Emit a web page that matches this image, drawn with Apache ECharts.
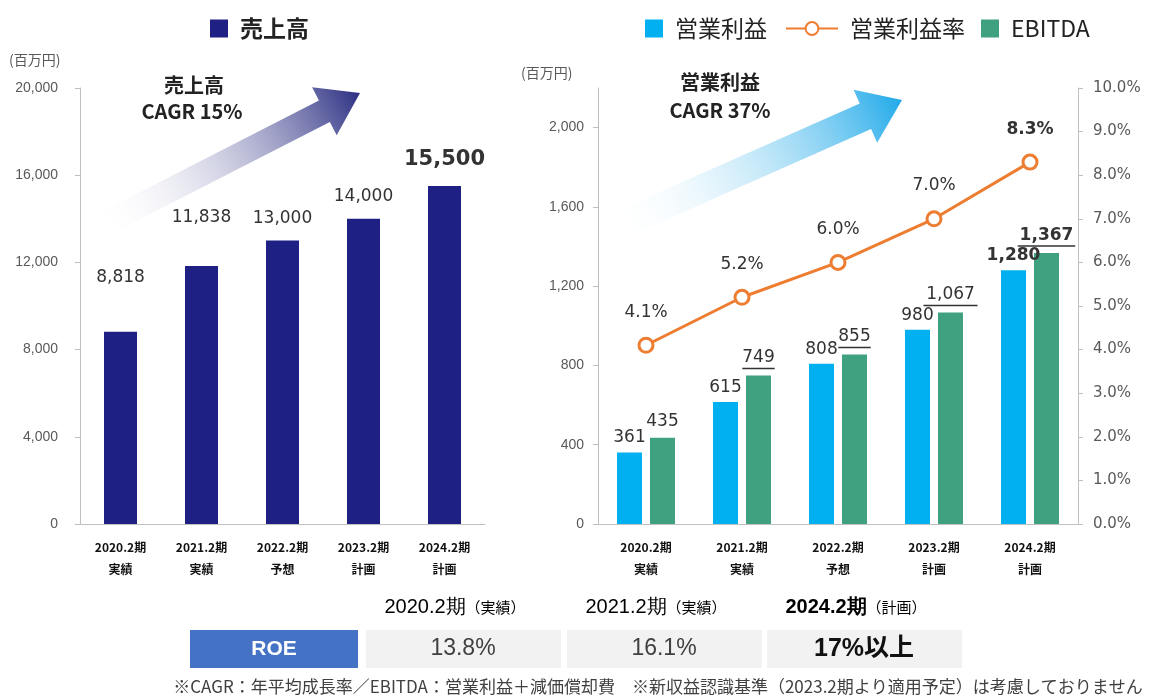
<!DOCTYPE html>
<html>
<head>
<meta charset="utf-8">
<script src="https://cdn.jsdelivr.net/npm/echarts@6/dist/echarts.min.js"></script>
<style>
  html, body { margin: 0; padding: 0; background: #fff; }
  #chart { width: 1149px; height: 695px; }
</style>
</head>
<body>
<div id="chart"></div>
<script>
// data
const years = ['2020.2期', '2021.2期', '2022.2期', '2023.2期', '2024.2期'];
const status = ['実績', '実績', '予想', '計画', '計画'];
const sales = [8818, 11838, 13000, 14000, 15500];
const opProfit = [361, 615, 808, 980, 1280];
const ebitda = [435, 749, 855, 1067, 1367];
const opMargin = [4.1, 5.2, 6.0, 7.0, 8.3];
const roeYears = ['2020.2期', '2021.2期', '2024.2期'];
const roeNotes = ['（実績）', '（実績）', '（計画）'];
const roeValues = ['13.8%', '16.1%', '17%以上'];

const JP = '"Noto Sans CJK JP", sans-serif';
const NUM = '"DejaVu Sans", Verdana, sans-serif';
const NARROW = '"Liberation Sans Narrow", "Liberation Sans", sans-serif';

const cats = years.map((y, i) => y + '\n' + status[i]);
const fmt = v => v.toLocaleString('en-US');

function arrow(x1, y1, x2, y2, sw, hw, hl) {
  const dx = x2 - x1, dy = y2 - y1, L = Math.hypot(dx, dy);
  const ux = dx / L, uy = dy / L, nx = -uy, ny = ux;
  const bx = x2 - ux * hl, by = y2 - uy * hl;
  return [
    [x1 + nx * sw / 2, y1 + ny * sw / 2],
    [bx + nx * sw / 2, by + ny * sw / 2],
    [bx + nx * hw / 2, by + ny * hw / 2],
    [x2, y2],
    [bx - nx * hw / 2, by - ny * hw / 2],
    [bx - nx * sw / 2, by - ny * sw / 2],
    [x1 - nx * sw / 2, y1 - ny * sw / 2]
  ];
}

function grad(color) {
  return {
    type: 'linear', x: 0, y: 1, x2: 1, y2: 0,
    colorStops: [
      { offset: 0, color: 'rgba(255,255,255,0)' },
      { offset: 1, color: color }
    ]
  };
}

// sales labels sit at different heights in the original
const salesGap = [46, 40, 14, 14, 16];
const salesData = sales.map((v, i) => ({
  value: v,
  label: {
    distance: salesGap[i],
    fontWeight: i === sales.length - 1 ? 'bold' : 'normal',
    fontSize: i === sales.length - 1 ? 21 : 17
  }
}));

const opData = opProfit.map((v, i) => ({
  value: v,
  label: { fontWeight: i === opProfit.length - 1 ? 'bold' : 'normal' }
}));

const ebitdaData = ebitda.map((v, i) => {
  const s = fmt(v);
  const bold = i === ebitda.length - 1;
  if (i === 0) return { value: v, label: { distance: 8 } };
  return {
    value: v,
    label: {
      formatter: '{v|' + s + '}\n{u|}',
      rich: {
        v: { fontFamily: NUM, fontSize: 17, color: '#333', fontWeight: bold ? 'bold' : 'normal', lineHeight: 20 },
        u: { width: s.length * (bold ? 11.5 : 10.8), height: 1.5, backgroundColor: '#333', lineHeight: 2 }
      }
    }
  };
});

const marginData = opMargin.map((v, i) => ({
  value: v,
  label: { fontWeight: i === opMargin.length - 1 ? 'bold' : 'normal' }
}));

const xLabel = {
  fontFamily: JP, fontSize: 12, fontWeight: 'bold', color: '#111',
  lineHeight: 22, margin: 12
};
const axisGray = { lineStyle: { color: '#bfbfbf' } };

const graphics = [
  { type: 'text', left: 9, top: 53, style: { text: '(百万円)', font: '14px ' + JP, fill: '#595959' } },
  { type: 'text', left: 521, top: 66, style: { text: '(百万円)', font: '14px ' + JP, fill: '#595959' } },
  { type: 'polygon', z: 0, shape: { points: arrow(108, 222, 360, 93, 24, 54, 40) }, style: { fill: grad('#282b80') } },
  { type: 'polygon', z: 0, shape: { points: arrow(622, 224, 902, 100, 28, 58, 40) }, style: { fill: grad('#1aa7e8') } },
  { type: 'text', x: 194, y: 85, style: { text: '売上高', font: 'bold 20px ' + JP, fill: '#222', align: 'center', verticalAlign: 'middle' } },
  { type: 'text', x: 192, y: 111, style: { text: 'CAGR 15%', font: 'bold 20px ' + JP, fill: '#222', align: 'center', verticalAlign: 'middle' } },
  { type: 'text', x: 720, y: 82, style: { text: '営業利益', font: 'bold 20px ' + JP, fill: '#222', align: 'center', verticalAlign: 'middle' } },
  { type: 'text', x: 720, y: 110, style: { text: 'CAGR 37%', font: 'bold 20px ' + JP, fill: '#222', align: 'center', verticalAlign: 'middle' } },
  { type: 'rect', shape: { x: 190, y: 630, width: 168, height: 38 }, style: { fill: '#4472c4' } },
  { type: 'text', x: 274, y: 649, style: { text: 'ROE', font: 'bold 21px ' + NARROW, fill: '#fff', align: 'center', verticalAlign: 'middle' } },
  {
    type: 'text', x: 658, y: 687,
    style: {
      text: '※CAGR：年平均成長率／EBITDA：営業利益＋減価償却費　※新収益認識基準（2023.2期より適用予定）は考慮しておりません',
      font: '17px ' + JP, fill: '#404040', align: 'center', verticalAlign: 'middle'
    }
  }
];

const cellX = [366, 567, 767];
roeValues.forEach((v, i) => {
  const cx = cellX[i] + 97;
  const bold = i === roeValues.length - 1;
  graphics.push({ type: 'rect', shape: { x: cellX[i], y: 630, width: 195, height: 38 }, style: { fill: '#f2f2f2' } });
  graphics.push({
    type: 'text', x: cx, y: 649,
    style: { text: v, font: (bold ? 'bold 25px ' : '23px ') + NARROW + ', ' + JP, fill: bold ? '#111' : '#404040', align: 'center', verticalAlign: 'middle' }
  });
  graphics.push({
    type: 'text', x: cx - 8, y: 607,
    style: {
      text: '{a|' + roeYears[i] + '}{b|' + roeNotes[i] + '}',
      align: 'center', verticalAlign: 'middle',
      rich: {
        a: { fontFamily: NARROW, fontSize: 20, fontWeight: bold ? 'bold' : 'normal', color: '#222' },
        b: { fontFamily: JP, fontSize: 15, color: '#404040' }
      }
    }
  });
});

const legendText = (bold) => ({ fontFamily: JP, fontSize: 23, fontWeight: bold ? 'bold' : 'normal', color: '#222', padding: [0, 0, 0, 7] });

const chart = echarts.init(document.getElementById('chart'));
chart.setOption({
  animation: false,
  backgroundColor: '#fff',
  legend: [
    { data: ['売上高'], left: 205, top: 12, icon: 'rect', itemWidth: 18, itemHeight: 18, textStyle: legendText(true) },
    { data: ['営業利益'], left: 640, top: 12, icon: 'rect', itemWidth: 18, itemHeight: 18, textStyle: legendText(false) },
    { data: ['営業利益率'], left: 780, top: 12, itemWidth: 52, itemHeight: 16, textStyle: legendText(false) },
    { data: ['EBITDA'], left: 976, top: 12, icon: 'rect', itemWidth: 18, itemHeight: 18, textStyle: legendText(false) }
  ],
  grid: [
    { left: 80, right: 664, top: 88, bottom: 171 },
    { left: 598, right: 71, top: 88, bottom: 171 }
  ],
  xAxis: [
    { type: 'category', gridIndex: 0, data: cats, axisLine: axisGray, axisTick: { lineStyle: { color: '#bfbfbf' } }, axisLabel: xLabel },
    { type: 'category', gridIndex: 1, data: cats, axisLine: axisGray, axisTick: { lineStyle: { color: '#bfbfbf' } }, axisLabel: xLabel }
  ],
  yAxis: [
    {
      type: 'value', gridIndex: 0, min: 0, max: 20000, interval: 4000,
      axisLine: { show: true, lineStyle: { color: '#bfbfbf' } },
      axisTick: { show: true, length: 5, lineStyle: { color: '#bfbfbf' } },
      splitLine: { show: false },
      axisLabel: { formatter: fmt, fontFamily: NARROW, fontSize: 14, color: '#595959', margin: 22 }
    },
    {
      type: 'value', gridIndex: 1, min: 0, max: 2200, interval: 400,
      axisLine: { show: true, lineStyle: { color: '#bfbfbf' } },
      axisTick: { show: true, length: 5, lineStyle: { color: '#bfbfbf' } },
      splitLine: { show: false },
      axisLabel: { formatter: fmt, showMaxLabel: false, fontFamily: NARROW, fontSize: 14, color: '#595959', margin: 14 }
    },
    {
      type: 'value', gridIndex: 1, position: 'right', min: 0, max: 10, interval: 1,
      axisLine: { show: true, lineStyle: { color: '#bfbfbf' } },
      axisTick: { show: true, length: 5, lineStyle: { color: '#bfbfbf' } },
      splitLine: { show: false },
      axisLabel: { formatter: v => v.toFixed(1) + '%', fontFamily: NUM, fontSize: 15, color: '#595959', margin: 15 }
    }
  ],
  series: [
    {
      name: '売上高', type: 'bar', xAxisIndex: 0, yAxisIndex: 0, barWidth: 33,
      itemStyle: { color: '#1f2083' },
      label: { show: true, position: 'top', formatter: p => fmt(p.value), fontFamily: NUM, fontSize: 17, color: '#333' },
      data: salesData
    },
    {
      name: '営業利益', type: 'bar', xAxisIndex: 1, yAxisIndex: 1, barWidth: 25, barGap: '32%',
      itemStyle: { color: '#00b0f0' },
      label: { show: true, position: 'top', distance: 6, formatter: p => fmt(p.value), fontFamily: NUM, fontSize: 17, color: '#333' },
      data: opData
    },
    {
      name: 'EBITDA', type: 'bar', xAxisIndex: 1, yAxisIndex: 1, barWidth: 25, barGap: '32%',
      itemStyle: { color: '#3fa17f' },
      label: { show: true, position: 'top', distance: 6, formatter: p => fmt(p.value), fontFamily: NUM, fontSize: 17, color: '#333' },
      data: ebitdaData
    },
    {
      name: '営業利益率', type: 'line', xAxisIndex: 1, yAxisIndex: 2, z: 5,
      symbol: 'circle', symbolSize: 14,
      lineStyle: { color: '#ed7d31', width: 3 },
      itemStyle: { color: '#fff', borderColor: '#ed7d31', borderWidth: 3 },
      label: { show: true, position: 'top', distance: 16, formatter: p => p.value.toFixed(1) + '%', fontFamily: NUM, fontSize: 17, color: '#333' },
      data: marginData
    }
  ],
  graphic: graphics
});
</script>
</body>
</html>
